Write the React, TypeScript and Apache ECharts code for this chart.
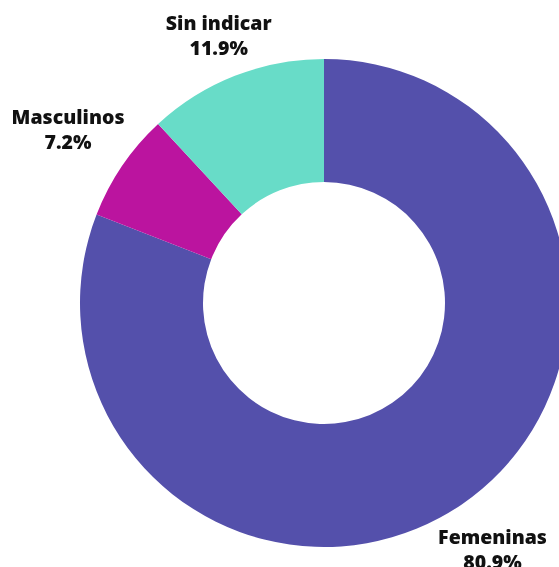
import React, { useEffect, useRef } from "react";
import * as echarts from "echarts";

const categories = ["Femeninas", "Masculinos", "Sin indicar"];
const values = [80.9, 7.2, 11.9];
const colors = ["#5450ab", "#bb149f", "#68dcc8"];

const CX = 324;
const CY = 303;
const R_IN = 121;
const R_OUT = 244;
const GAP = 5;

export default function App() {
  const ref = useRef<HTMLDivElement>(null);
  useEffect(() => {
    if (!ref.current) return;
    const chart = echarts.init(ref.current, undefined, { renderer: "svg" });
    const total = values.reduce((a, b) => a + b, 0);
    const mids: number[] = [];
    let acc = 0;
    values.forEach((v) => {
      const a0 = (acc / total) * Math.PI * 2;
      acc += v;
      const a1 = (acc / total) * Math.PI * 2;
      mids.push((a0 + a1) / 2);
    });
    chart.setOption({
      animation: false,
      series: [
        {
          type: "pie",
          center: [CX, CY],
          radius: [R_IN, R_OUT],
          startAngle: 90,
          clockwise: true,
          silent: true,
          itemStyle: { borderWidth: 0 },
          label: {
            show: true,
            position: "outside",
            overflow: "none",
            formatter: (p: any) => `${p.name}\n${Number(p.value).toFixed(1)}%`,
            fontFamily: "Open Sans",
            fontWeight: 800,
            fontSize: 19.5,
            lineHeight: 25,
            color: "#111111",
          },
          labelLine: { show: false },
          labelLayout: (params: any) => {
            const th = mids[params.dataIndex];
            const ux = Math.sin(th);
            const uy = -Math.cos(th);
            const w = params.labelRect.width;
            const h = params.labelRect.height;
            const ax = (ux >= 0 ? 1 : -1) * (w / 2);
            const ay = (uy >= 0 ? 1 : -1) * (h / 2);
            const ua = ux * ax + uy * ay;
            const rr = R_OUT + GAP;
            const d = ua + Math.sqrt(ua * ua - (ax * ax + ay * ay) + rr * rr);
            return {
              x: CX + ux * d,
              y: CY + uy * d,
              align: "center",
              verticalAlign: "middle",
            };
          },
          data: categories.map((name, i) => ({
            name,
            value: values[i],
            itemStyle: { color: colors[i] },
          })),
        },
      ],
    });
    return () => chart.dispose();
  }, []);
  return (
    <div
      ref={ref}
      style={{ position: "fixed", left: 0, top: 0, width: 559, height: 567 }}
    />
  );
}
